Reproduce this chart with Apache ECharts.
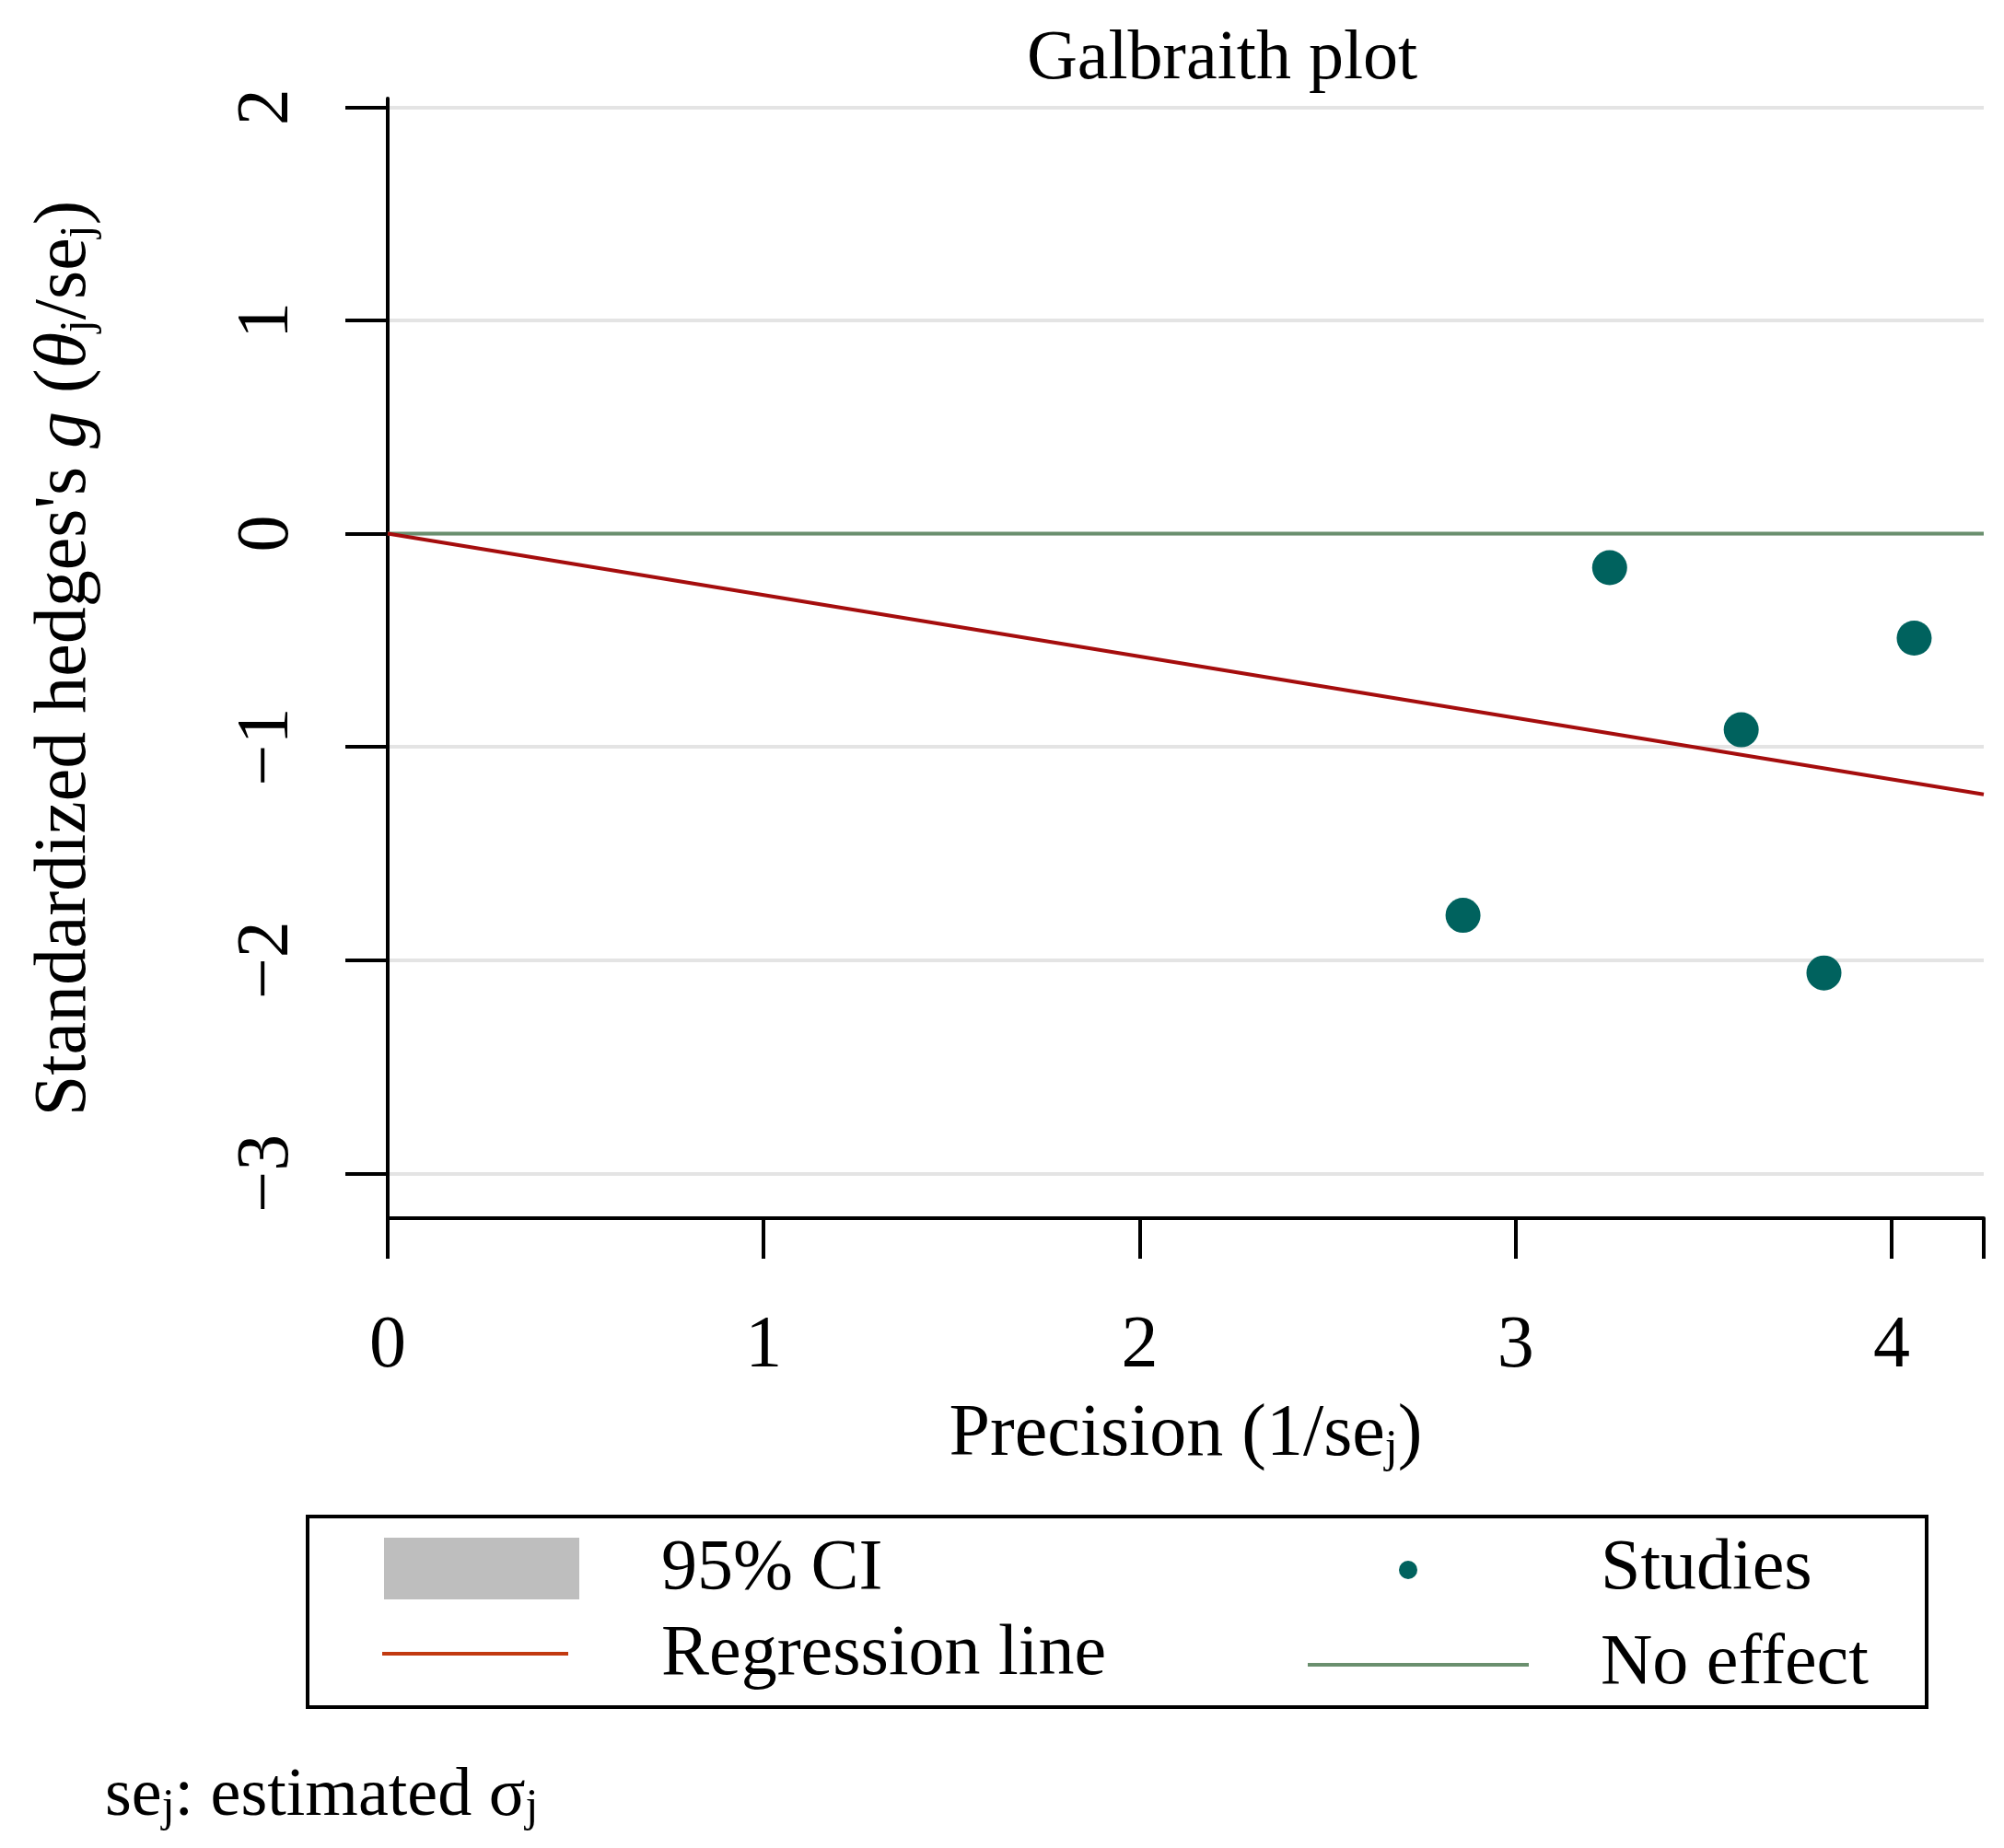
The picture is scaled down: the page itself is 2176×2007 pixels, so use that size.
<!DOCTYPE html>
<html><head><meta charset="utf-8">
<script src="https://cdn.jsdelivr.net/npm/echarts@6/dist/echarts.min.js"></script>
<style>html,body{margin:0;background:#fff}#main{width:2176px;height:2007px}</style>
</head><body><div id="main"></div>
<script>
// study points
const precision = [2.86, 3.25, 3.60, 3.82, 4.06];
const stdEffect = [-1.79, -0.16, -0.92, -2.06, -0.49];
const regSlope = -0.288;
const xRange = [0, 4.245];
const yTicks = [-3, -2, -1, 0, 1, 2];

const font = 'Liberation Serif';
const regLine = xRange.map(x => [x, x * regSlope]);
const zeroLine = xRange.map(x => [x, 0]);
const sub = {fontFamily: font, fontSize: 50, lineHeight: 50, color: '#000', fill: '#000', verticalAlign: 'bottom'};
const main = {fontFamily: font, fontSize: 80, lineHeight: 80, color: '#000', fill: '#000'};

const chart = echarts.init(document.getElementById('main'));
chart.setOption({
  backgroundColor: '#fff',
  animation: false,
  title: {text: 'Galbraith plot', left: 1322, top: 22, textAlign: 'center',
    textStyle: {fontFamily: font, fontSize: 76, fontWeight: 'normal', color: '#000'}},
  grid: {left: 421, right: 22, top: 107, bottom: 684},
  xAxis: {
    type: 'value', min: 0, max: xRange[1], interval: 1,
    axisLine: {onZero: false, lineStyle: {color: '#000', width: 4}},
    axisTick: {length: 44, lineStyle: {color: '#000', width: 4}},
    axisLabel: {margin: 100, fontFamily: font, fontSize: 80, color: '#000',
      formatter: v => Number.isInteger(v) ? v : ''},
    splitLine: {show: false},
    name: '{a|Precision (1/se}{s|j}{a|)}', nameLocation: 'middle', nameGap: 196,
    nameTextStyle: {rich: {a: main, s: sub}}
  },
  yAxis: {
    type: 'value', min: -3.21, max: 2.04,
    axisLine: {lineStyle: {color: '#000', width: 4}},
    axisTick: {length: 46, customValues: yTicks, lineStyle: {color: '#000', width: 4}},
    axisLabel: {rotate: 90, margin: 90, customValues: yTicks, fontFamily: font, fontSize: 80, color: '#000',
      formatter: v => String(v).replace('-', '\u2212')},
    splitLine: {show: true, lineStyle: {color: '#e4e4e4', width: 4}},
    name: '{a|Standardized hedges\'s }{i|g}{a| (}{i|θ}{s|j}{a|/se}{s|j}{a|)}',
    nameLocation: 'middle', nameRotate: 90, nameGap: 310,
    nameTextStyle: {rich: {a: main, i: Object.assign({}, main, {fontStyle: 'italic'}), s: sub}}
  },
  series: [
    {name: 'No effect', type: 'line', data: zeroLine, symbol: 'none',
      lineStyle: {color: '#6a8f6e', width: 4}, z: 3},
    {name: 'Regression line', type: 'line', data: regLine, symbol: 'none',
      lineStyle: {color: '#a50d0d', width: 4}, z: 4},
    {name: 'Studies', type: 'scatter', data: precision.map((x, i) => [x, stdEffect[i]]),
      symbolSize: 38, itemStyle: {color: '#00625e', opacity: 1}, z: 5}
  ],
  graphic: [
    {type: 'rect', shape: {x: 334, y: 1647, width: 1758, height: 207},
      style: {fill: '#fff', stroke: '#000', lineWidth: 4}},
    {type: 'rect', shape: {x: 417, y: 1670, width: 212, height: 67}, style: {fill: '#bebebe'}},
    {type: 'text', x: 718, y: 1705, style: {text: '95% CI', font: '78px "Liberation Serif"', fill: '#000', verticalAlign: 'middle'}},
    {type: 'line', shape: {x1: 415, y1: 1796, x2: 617, y2: 1796}, style: {stroke: '#c23a10', lineWidth: 4}},
    {type: 'text', x: 718, y: 1798, style: {text: 'Regression line', font: '78px "Liberation Serif"', fill: '#000', verticalAlign: 'middle'}},
    {type: 'circle', shape: {cx: 1529, cy: 1705, r: 10}, style: {fill: '#00625e'}},
    {type: 'text', x: 1738, y: 1705, style: {text: 'Studies', font: '78px "Liberation Serif"', fill: '#000', verticalAlign: 'middle'}},
    {type: 'line', shape: {x1: 1420, y1: 1808, x2: 1660, y2: 1808}, style: {stroke: '#6a8f6e', lineWidth: 4}},
    {type: 'text', x: 1738, y: 1808, style: {text: 'No effect', font: '78px "Liberation Serif"', fill: '#000', verticalAlign: 'middle'}},
    {type: 'text', x: 114, y: 1952, style: {
      text: '{a|se}{s|j}{a|: estimated σ}{s|j}',
      rich: {a: {fontFamily: font, fontSize: 74, lineHeight: 74, fill: '#000'}, s: sub},
      verticalAlign: 'middle'}}
  ]
});
</script></body></html>
